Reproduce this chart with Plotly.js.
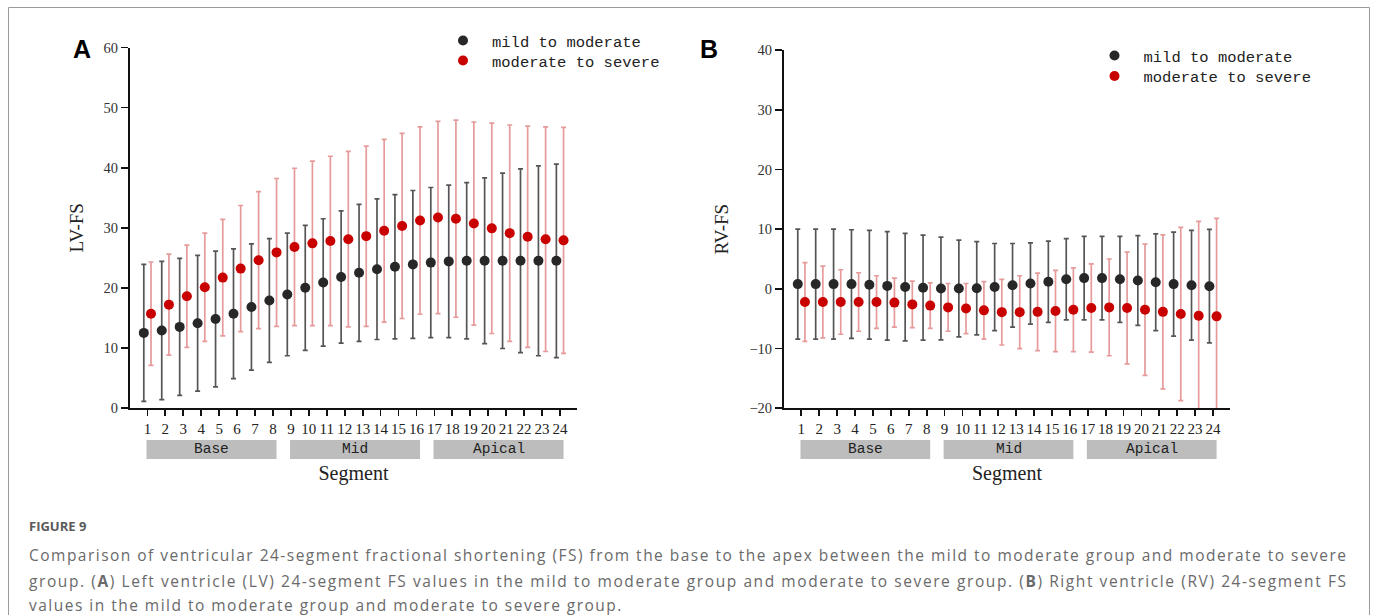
<!DOCTYPE html>
<html>
<head>
<meta charset="utf-8">
<script src="https://cdn.plot.ly/plotly-3.0.1.min.js"></script>
<style>
  html, body { margin: 0; padding: 0; background: #ffffff; }
  #chart { width: 1375px; height: 615px; }
</style>
</head>
<body>
<div id="chart"></div>
<script>
// ---- Data ----
const segments = [1,2,3,4,5,6,7,8,9,10,11,12,13,14,15,16,17,18,19,20,21,22,23,24];
const tickLabels = ['1','2','3','4','5','6','7','8','9','10','11','12','13','14','15','16','17','18','19','20','21','22','23','24'];

// Left ventricle (LV-FS)
const lvMildMean = [12.5,12.9,13.5,14.1,14.8,15.7,16.8,17.9,18.9,20.0,20.9,21.8,22.5,23.1,23.5,23.9,24.2,24.4,24.5,24.5,24.5,24.5,24.5,24.5];
const lvMildSD   = [11.4,11.5,11.4,11.3,11.3,10.8,10.5,10.3,10.2,10.4,10.6,11.0,11.4,11.7,12.0,12.3,12.5,12.7,13.0,13.8,14.6,15.3,15.8,16.1];
const lvSevereMean = [15.7,17.2,18.6,20.1,21.7,23.2,24.6,25.9,26.8,27.4,27.8,28.1,28.6,29.5,30.3,31.2,31.7,31.5,30.7,29.9,29.1,28.5,28.1,27.9];
const lvSevereSD   = [8.6,8.4,8.5,9.0,9.7,10.5,11.4,12.3,13.1,13.7,14.1,14.6,15.0,15.2,15.4,15.6,16.0,16.4,16.9,17.5,18.0,18.4,18.7,18.8];

// Right ventricle (RV-FS)
const rvMildMean = [0.8,0.8,0.8,0.8,0.7,0.5,0.3,0.2,0.05,0.05,0.1,0.3,0.6,0.9,1.2,1.6,1.8,1.8,1.6,1.4,1.1,0.8,0.6,0.45];
const rvMildSD   = [9.2,9.2,9.2,9.1,9.1,9.1,9.0,8.8,8.6,8.1,7.8,7.3,7.0,6.8,6.8,6.8,7.0,7.0,7.2,7.5,8.1,8.7,9.2,9.5];
const rvSevereMean = [-2.2,-2.2,-2.2,-2.2,-2.2,-2.3,-2.6,-2.8,-3.1,-3.3,-3.6,-3.9,-3.9,-3.85,-3.7,-3.5,-3.2,-3.1,-3.2,-3.5,-3.85,-4.2,-4.5,-4.6];
const rvSevereSD   = [6.6,6.0,5.4,4.9,4.4,4.1,3.9,3.8,4.0,4.2,4.8,5.5,6.1,6.5,6.8,7.0,7.4,8.1,9.35,11.0,12.9,14.5,15.8,16.4];

// Segment groups
const groupNames = ['Base','Mid','Apical'];
const groupFirst = [1, 9, 17];
const groupLast  = [8, 16, 24];

const seriesNames = ['mild to moderate', 'moderate to severe'];

const captionTitle = 'FIGURE 9';
const captionLines = [
  'Comparison of ventricular 24-segment fractional shortening (FS) from the base to the apex between the mild to moderate group and moderate to severe',
  'group. (<b>A</b>) Left ventricle (LV) 24-segment FS values in the mild to moderate group and moderate to severe group. (<b>B</b>) Right ventricle (RV) 24-segment FS',
  'values in the mild to moderate group and moderate to severe group.'
];

// ---- Styles ----
const W = 1375, H = 615;
const BLACK = '#272727', BLACK_ERR = '#555555';
const RED = '#c80000', RED_ERR = '#e69a9a';
const SERIF = 'Liberation Serif, Times New Roman, serif';
const MONO = 'Liberation Mono, Courier New, monospace';
const SANS = 'Open Sans, Noto Sans, sans-serif';
const OFFSET = 0.2;
const CAP_LEFT = 28, CAP_RIGHT = 1345;

function px2x(p) { return p / W; }
function py2y(p) { return 1 - p / H; }

function mkTrace(xs, means, sds, color, errColor, name, xa, ya, legend) {
  return {
    type: 'scatter', mode: 'markers',
    x: xs, y: means, name: name,
    xaxis: xa, yaxis: ya, legend: legend,
    marker: { color: color, size: 10 },
    error_y: { type: 'data', array: sds, visible: true, color: errColor, thickness: 1.7, width: 2.5 },
    cliponaxis: true
  };
}

const xLeft = segments.map(s => s - OFFSET);
const xRight = segments.map(s => s + OFFSET);

const data = [
  mkTrace(xLeft, lvMildMean, lvMildSD, BLACK, BLACK_ERR, seriesNames[0], 'x', 'y', 'legend'),
  mkTrace(xRight, lvSevereMean, lvSevereSD, RED, RED_ERR, seriesNames[1], 'x', 'y', 'legend2'),
  mkTrace(xLeft, rvMildMean, rvMildSD, BLACK, BLACK_ERR, seriesNames[0], 'x2', 'y2', 'legend3'),
  mkTrace(xRight, rvSevereMean, rvSevereSD, RED, RED_ERR, seriesNames[1], 'x2', 'y2', 'legend4')
];

const xCommon = {
  range: [0.03, 24.95], showgrid: false, zeroline: false,
  showline: true, linecolor: '#111', linewidth: 2,
  ticks: 'outside', ticklen: 6, tickwidth: 1.8, tickcolor: '#111',
  tickmode: 'array', tickvals: segments, ticktext: tickLabels,
  tickfont: { family: SERIF, size: 15, color: '#222' },
  title: { text: 'Segment', font: { family: SERIF, size: 20, color: '#222' }, standoff: 30 },
  fixedrange: true
};
const yCommon = {
  showgrid: false, zeroline: false,
  showline: true, linecolor: '#111', linewidth: 2,
  ticks: 'outside', ticklen: 7, tickwidth: 1.8, tickcolor: '#111',
  dtick: 10,
  tickfont: { family: SERIF, size: 14.5, color: '#333' },
  fixedrange: true
};

function mkLegend(left, top) {
  return {
    x: px2x(left), y: py2y(top), xanchor: 'left', yanchor: 'top',
    bgcolor: 'rgba(0,0,0,0)', borderwidth: 0, tracegroupgap: 0, itemwidth: 48,
    font: { family: MONO, size: 15.5, color: '#222' }
  };
}

const layout = {
  width: W, height: H,
  margin: { l: 0, r: 0, t: 0, b: 0 },
  paper_bgcolor: '#ffffff', plot_bgcolor: '#ffffff',
  showlegend: true,
  xaxis: Object.assign({}, xCommon, { domain: [px2x(130), px2x(577)], anchor: 'y' }),
  yaxis: Object.assign({}, yCommon, { domain: [py2y(408), py2y(47.5)], range: [0, 60], anchor: 'x',
    title: { text: 'LV-FS', font: { family: SERIF, size: 19, color: '#222' }, standoff: 15 } }),
  xaxis2: Object.assign({}, xCommon, { domain: [px2x(784), px2x(1230)], anchor: 'y2' }),
  yaxis2: Object.assign({}, yCommon, { domain: [py2y(408.3), py2y(50)], range: [-20, 40], anchor: 'x2',
    title: { text: 'RV-FS', font: { family: SERIF, size: 19, color: '#222' }, standoff: 16 } }),
  legend: mkLegend(434, 24),
  legend2: mkLegend(434, 44),
  legend3: mkLegend(1085.5, 39),
  legend4: mkLegend(1085.5, 59.5),
  shapes: [],
  annotations: []
};

// Figure frame
layout.shapes.push({
  type: 'rect', xref: 'paper', yref: 'paper',
  x0: px2x(8.5), x1: px2x(1369.5), y0: -0.05, y1: py2y(7.5),
  line: { color: '#9a9a9a', width: 1 }, fillcolor: 'rgba(0,0,0,0)', layer: 'below'
});

// Segment group boxes + labels (both panels)
['x', 'x2'].forEach(xr => {
  groupNames.forEach((g, i) => {
    const x0 = groupFirst[i] - 0.05, x1 = groupLast[i] + 0.2;
    layout.shapes.push({
      type: 'rect', xref: xr, yref: 'paper',
      x0: x0, x1: x1, y0: py2y(459), y1: py2y(440),
      line: { width: 0 }, fillcolor: '#bdbdbd', layer: 'below'
    });
    layout.annotations.push({
      xref: xr, yref: 'paper', x: (x0 + x1) / 2, y: py2y(449.5),
      xanchor: 'center', yanchor: 'middle', showarrow: false,
      text: g, font: { family: MONO, size: 14.5, color: '#222' }
    });
  });
});

// Panel letters
layout.annotations.push({
  xref: 'paper', yref: 'paper', x: px2x(82), y: py2y(48.5), xanchor: 'center', yanchor: 'middle',
  showarrow: false, text: '<b>A</b>', font: { family: 'Liberation Sans, Arial, sans-serif', size: 25, color: '#000' }
});
layout.annotations.push({
  xref: 'paper', yref: 'paper', x: px2x(709), y: py2y(48.5), xanchor: 'center', yanchor: 'middle',
  showarrow: false, text: '<b>B</b>', font: { family: 'Liberation Sans, Arial, sans-serif', size: 25, color: '#000' }
});

// Caption
layout.annotations.push({
  xref: 'paper', yref: 'paper', x: px2x(CAP_LEFT - 1), y: py2y(526), xanchor: 'left', yanchor: 'middle',
  showarrow: false, text: '<b>' + captionTitle + '</b>',
  font: { family: SANS, size: 13, color: '#5a5a5a' }
});
const capY = [555, 580.5, 604.5];
captionLines.forEach((t, i) => {
  layout.annotations.push({
    xref: 'paper', yref: 'paper', x: px2x(CAP_LEFT - 1), y: py2y(capY[i]), xanchor: 'left', yanchor: 'middle',
    showarrow: false, text: t, align: 'left',
    font: { family: SANS, size: 15.5, color: '#6a6a6a' }
  });
});

Plotly.newPlot('chart', data, layout, { displayModeBar: false, staticPlot: true }).then(() => {
  // Justify the caption lines (the reference caption is set justified)
  const plain = captionLines.map(t => t.replace(/<[^>]+>/g, ''));
  const els = Array.from(document.querySelectorAll('.annotation-text'));
  const target = CAP_RIGHT - CAP_LEFT;
  let ls = 0;
  [0, 1, 2].forEach(i => {
    const el = els.find(e => e.textContent === plain[i]);
    if (!el) return;
    const n = plain[i].length;
    if (i < 2) {
      const natural = el.getComputedTextLength();
      const s = (target - natural) / (n - 1);
      if (i === 0) ls = s;
      el.style.letterSpacing = s + 'px';
    } else {
      el.style.letterSpacing = ls + 'px';
    }
  });
});
</script>
</body>
</html>
